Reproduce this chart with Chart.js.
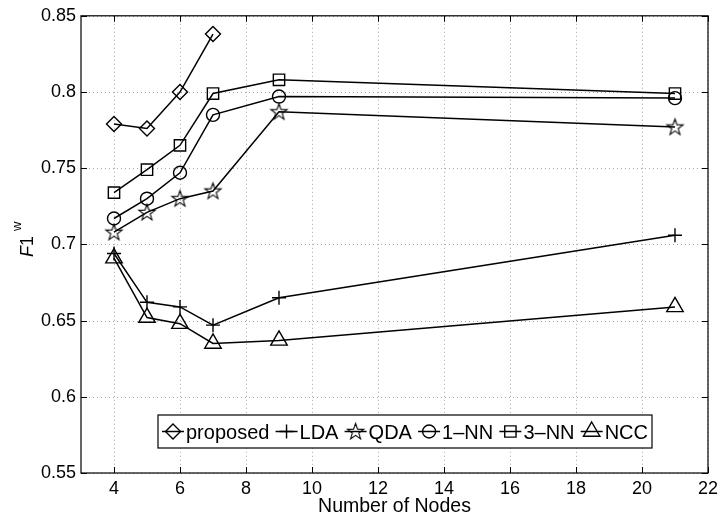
<!DOCTYPE html>
<html>
<head>
<meta charset="utf-8">
<script src="https://cdn.jsdelivr.net/npm/chart.js@4.4.0/dist/chart.umd.min.js"></script>
<style>
  html, body { margin: 0; padding: 0; background: #fff; }
  #wrap { width: 723px; height: 522px; }
</style>
</head>
<body>
<div id="wrap"><canvas id="chart" width="723" height="522"></canvas></div>
<script>
// data
const nodes = [4, 5, 6, 7, 9, 21];
const proposed = [0.779, 0.776, 0.800, 0.838];
const lda = [0.694, 0.662, 0.659, 0.647, 0.665, 0.706];
const qda = [0.708, 0.721, 0.730, 0.735, 0.787, 0.777];
const nn1 = [0.717, 0.730, 0.747, 0.785, 0.797, 0.796];
const nn3 = [0.734, 0.749, 0.765, 0.799, 0.808, 0.799];
const ncc = [0.691, 0.652, 0.648, 0.635, 0.637, 0.659];
const seriesNames = ['proposed', 'LDA', 'QDA', '1–NN', '3–NN', 'NCC'];
const xTicks = [4, 6, 8, 10, 12, 14, 16, 18, 20, 22];
const yTicks = [0.55, 0.6, 0.65, 0.7, 0.75, 0.8, 0.85];

const FONT = '"Liberation Sans", Arial, Helvetica, sans-serif';
const FS = 18;

// five point star marker (Chart.js has no outline star)
function starMarker(r) {
    const s = Math.ceil(r * 2 + 4);
    const c = document.createElement('canvas');
    c.width = s; c.height = s;
    const g = c.getContext('2d');
    g.translate(s / 2, s / 2 + 0.5);
    g.beginPath();
    for (let i = 0; i < 10; i++) {
        const rr = i % 2 ? r * 0.4 : r;
        const a = -Math.PI / 2 + i * Math.PI / 5;
        g.lineTo(rr * Math.cos(a), rr * Math.sin(a));
    }
    g.closePath();
    g.lineWidth = 1.1;
    g.strokeStyle = '#000';
    g.stroke();
    return c;
}
const star = starMarker(8.5);

const markers = [
    { style: 'rectRot', r: 7.5 },
    { style: 'cross', r: 7 },
    { style: star, r: 8 },
    { style: 'circle', r: 6.5 },
    { style: 'rect', r: 8 },
    { style: 'triangle', r: 9.5 }
];

function makeSet(i, ys) {
    return {
        label: seriesNames[i],
        data: ys.map((y, k) => ({ x: nodes[k], y })),
        borderColor: '#000',
        borderWidth: 1.5,
        pointStyle: markers[i].style,
        pointRadius: markers[i].r,
        pointBorderColor: '#000',
        pointBackgroundColor: 'rgba(0,0,0,0)',
        pointBorderWidth: 1.4,
        tension: 0,
        fill: false,
        clip: false
    };
}

// dotted grid under the data
const dottedGrid = {
    id: 'dottedGrid',
    beforeDatasetsDraw(chart) {
        const ctx = chart.ctx;
        const a = chart.chartArea;
        const xs = chart.scales.x, ys = chart.scales.y;
        ctx.save();
        ctx.strokeStyle = '#a8a8a8';
        ctx.lineWidth = 1;
        ctx.setLineDash([1, 3]);
        ctx.beginPath();
        xTicks.forEach(v => {
            const px = Math.round(xs.getPixelForValue(v)) + 0.5;
            ctx.moveTo(px, a.top); ctx.lineTo(px, a.bottom);
        });
        yTicks.forEach(v => {
            const py = Math.round(ys.getPixelForValue(v)) + 0.5;
            ctx.moveTo(a.left, py); ctx.lineTo(a.right, py);
        });
        ctx.stroke();
        ctx.restore();
    }
};

// frame, inward ticks, legend box and axis titles
const decorations = {
    id: 'decorations',
    afterDraw(chart) {
        const ctx = chart.ctx;
        const a = chart.chartArea;
        const xs = chart.scales.x, ys = chart.scales.y;
        ctx.save();
        ctx.strokeStyle = '#000';
        ctx.lineWidth = 1.2;
        ctx.strokeRect(a.left, a.top, a.right - a.left, a.bottom - a.top);

        ctx.lineWidth = 1;
        ctx.beginPath();
        xTicks.forEach(v => {
            const px = Math.round(xs.getPixelForValue(v)) + 0.5;
            ctx.moveTo(px, a.bottom); ctx.lineTo(px, a.bottom - 6);
            ctx.moveTo(px, a.top); ctx.lineTo(px, a.top + 6);
        });
        yTicks.forEach(v => {
            const py = Math.round(ys.getPixelForValue(v)) + 0.5;
            ctx.moveTo(a.left, py); ctx.lineTo(a.left + 6, py);
            ctx.moveTo(a.right, py); ctx.lineTo(a.right - 6, py);
        });
        ctx.stroke();

        // legend inside the plot
        const box = { l: a.left + 77, t: a.bottom - 58, w: 494, h: 33 };
        ctx.fillStyle = '#fff';
        ctx.fillRect(box.l, box.t, box.w, box.h);
        ctx.lineWidth = 1.2;
        ctx.strokeRect(box.l, box.t, box.w, box.h);
        ctx.font = '20px ' + FONT;
        const sample = 22;
        const widths = seriesNames.map(n => ctx.measureText(n).width);
        const used = widths.reduce((s, w) => s + w, 0) + seriesNames.length * (sample + 2);
        const gap = (box.w - 8 - used) / (seriesNames.length - 1);
        let x = box.l + 4;
        const cy = box.t + box.h / 2;
        seriesNames.forEach((name, i) => {
            ctx.strokeStyle = '#000';
            ctx.lineWidth = 1.5;
            ctx.beginPath();
            ctx.moveTo(x, cy); ctx.lineTo(x + sample, cy);
            ctx.stroke();
            ctx.fillStyle = 'rgba(0,0,0,0)';
            ctx.lineWidth = 1.4;
            Chart.helpers.drawPoint(ctx, {
                pointStyle: markers[i].style, radius: markers[i].r, rotation: 0, borderWidth: 1.4
            }, x + sample / 2, cy);
            ctx.fillStyle = '#000';
            ctx.textAlign = 'left';
            ctx.textBaseline = 'alphabetic';
            ctx.fillText(name, x + sample + 2, cy + 7);
            x += sample + 2 + widths[i] + gap;
        });

        // axis titles
        ctx.fillStyle = '#000';
        ctx.textAlign = 'center';
        ctx.textBaseline = 'alphabetic';
        ctx.font = '19.5px ' + FONT;
        ctx.fillText('Number of Nodes', (a.left + a.right) / 2, 512);

        ctx.translate(33, 257);
        ctx.rotate(-Math.PI / 2);
        ctx.textAlign = 'left';
        ctx.font = 'italic ' + FS + 'px ' + FONT;
        ctx.fillText('F', 0, 0);
        let w = ctx.measureText('F').width;
        ctx.font = FS + 'px ' + FONT;
        ctx.fillText('1', w, 0);
        w += ctx.measureText('1 ').width;
        ctx.font = '13px ' + FONT;
        ctx.fillText('w', w, -12);
        ctx.restore();
    }
};

new Chart(document.getElementById('chart'), {
    type: 'line',
    data: {
        datasets: [
            makeSet(0, proposed),
            makeSet(1, lda),
            makeSet(2, qda),
            makeSet(3, nn1),
            makeSet(4, nn3),
            makeSet(5, ncc)
        ]
    },
    options: {
        responsive: false,
        animation: false,
        events: [],
        layout: { padding: { left: 0, top: 11, right: 15, bottom: 0 } },
        plugins: { legend: { display: false }, tooltip: { enabled: false } },
        scales: {
            x: {
                type: 'linear',
                min: 3,
                max: 22,
                afterBuildTicks: s => { s.ticks = xTicks.map(v => ({ value: v })); },
                afterFit: s => { s.height = 49; },
                grid: { display: false, drawTicks: false },
                border: { display: false },
                ticks: {
                    color: '#000',
                    padding: 5,
                    maxRotation: 0,
                    font: { family: FONT, size: FS },
                    callback: v => String(v)
                }
            },
            y: {
                type: 'linear',
                min: 0.55,
                max: 0.85,
                afterBuildTicks: s => { s.ticks = yTicks.map(v => ({ value: v })); },
                afterFit: s => { s.width = 81; },
                grid: { display: false, drawTicks: false },
                border: { display: false },
                ticks: {
                    color: '#000',
                    padding: 5,
                    font: { family: FONT, size: FS },
                    callback: v => String(Math.round(v * 100) / 100)
                }
            }
        }
    },
    plugins: [dottedGrid, decorations]
});
</script>
</body>
</html>
